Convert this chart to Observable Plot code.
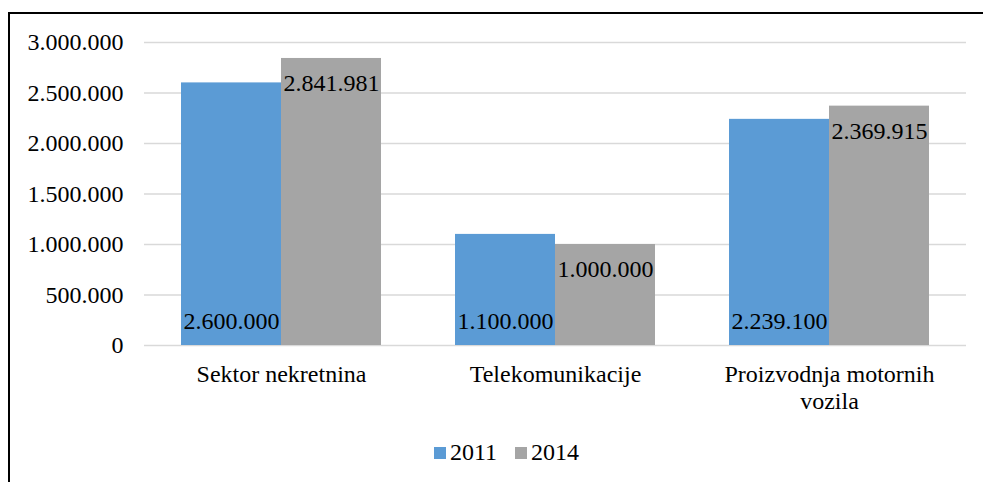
<!DOCTYPE html>
<html>
<head>
<meta charset="utf-8">
<script src="https://cdn.jsdelivr.net/npm/d3@7"></script>
<script src="https://cdn.jsdelivr.net/npm/@observablehq/plot@0.6"></script>
<style>
  html, body { margin: 0; padding: 0; background: #fff; overflow: hidden; width: 983px; height: 482px; }
  #frame { position: absolute; left: 8px; top: 12px; width: 1100px; height: 600px; border: 2px solid #000; box-sizing: border-box; }
  #chart { position: absolute; left: 0; top: 0; }
  #chart svg, #chart svg text { font-family: "Liberation Serif", "Times New Roman", Times, "DejaVu Serif", serif !important; }
  #legend { position: absolute; left: 434px; top: 439px; font-family: "Liberation Serif", "Times New Roman", Times, "DejaVu Serif", serif; font-size: 24px; color: #000; display: flex; align-items: center; white-space: nowrap; }
  .sw { display: inline-block; width: 12px; height: 12px; margin-right: 4px; }
  .item { display: flex; align-items: center; margin-right: 18px; }
</style>
</head>
<body>
<div id="frame"></div>
<div id="chart"></div>
<div id="legend"></div>
<script>
const categories = ["Sektor nekretnina", "Telekomunikacije", "Proizvodnja motornih vozila"];
const categoryLabels = ["Sektor nekretnina", "Telekomunikacije", "Proizvodnja motornih\nvozila"];
const years = ["2011", "2014"];
const values2011 = [2600000, 1100000, 2239100];
const values2014 = [2841981, 1000000, 2369915];
const yTicks = [0, 500000, 1000000, 1500000, 2000000, 2500000, 3000000];
const colors = ["#5B9BD5", "#A5A5A5"];

const data = [];
categories.forEach((c, i) => {
  data.push({cat: c, year: "2011", value: values2011[i]});
  data.push({cat: c, year: "2014", value: values2014[i]});
});

const fmt = d3.formatLocale({decimal: ",", thousands: ".", grouping: [3], currency: ["", ""]}).format(",");
const labelOf = new Map(categories.map((c, i) => [c, categoryLabels[i]]));

const chart = Plot.plot({
  width: 983,
  height: 420,
  marginLeft: 143,
  marginRight: 16,
  marginTop: 42,
  marginBottom: 75,
  style: {fontFamily: "'Liberation Serif', 'Times New Roman', Times, 'DejaVu Serif', serif", fontSize: "24px", color: "#000", background: "transparent"},
  fx: {domain: categories, padding: 0, axis: null},
  x: {domain: years, paddingInner: 0, paddingOuter: 0.36, axis: null},
  y: {domain: [0, 3000000], ticks: yTicks, tickFormat: fmt, tickSize: 0, tickPadding: 21, label: null},
  color: {domain: years, range: colors},
  marks: [
    Plot.gridY(yTicks, {stroke: "#D9D9D9", strokeOpacity: 1, strokeWidth: 1.5}),
    Plot.barY(data, {fx: "cat", x: "year", y: "value", fill: "year"}),
    Plot.text(data.filter(d => d.year === "2011"), {fx: "cat", x: "year", y: 0, text: d => fmt(d.value), dy: -24, lineAnchor: "middle", fill: "#000"}),
    Plot.text(data.filter(d => d.year === "2014"), {fx: "cat", x: "year", y: "value", text: d => fmt(d.value), dy: 25, lineAnchor: "middle", fill: "#000"}),
    Plot.axisFx({anchor: "bottom", tickSize: 0, tickPadding: 17, label: null, tickFormat: d => labelOf.get(d), lineHeight: 1.13})
  ]
});
document.getElementById("chart").appendChild(chart);

const legend = document.getElementById("legend");
years.forEach((y, i) => {
  const item = document.createElement("div");
  item.className = "item";
  const sw = document.createElement("span");
  sw.className = "sw";
  sw.style.background = colors[i];
  item.appendChild(sw);
  item.appendChild(document.createTextNode(y));
  legend.appendChild(item);
});
</script>
</body>
</html>
